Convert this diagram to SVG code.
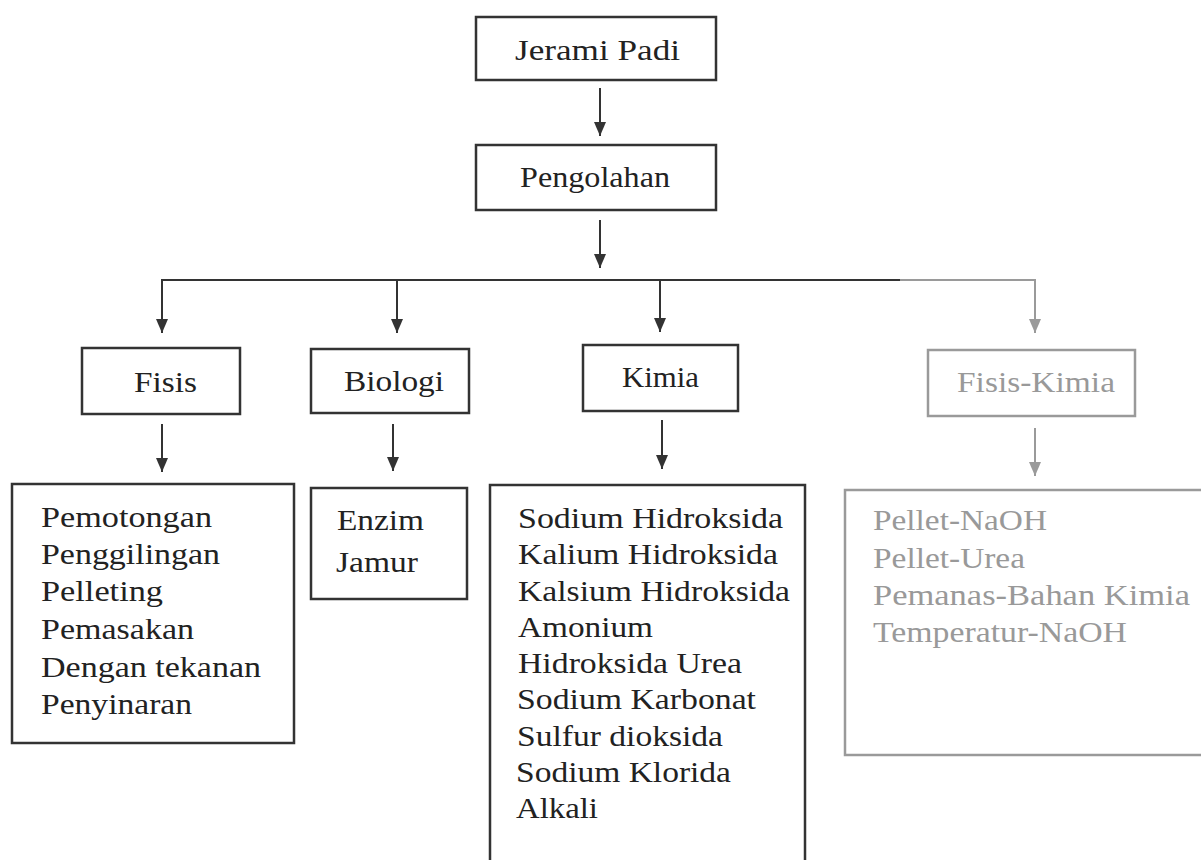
<svg xmlns="http://www.w3.org/2000/svg" width="1201" height="860" viewBox="0 0 1201 860">
<style>
.bx{fill:none;stroke:#333;stroke-width:2.5}
.bxg{fill:none;stroke:#9a9a9a;stroke-width:2.5}
.t{fill:#222}
.tg{fill:#999}
.ln{fill:none;stroke:#333;stroke-width:2}
.lng{fill:none;stroke:#9a9a9a;stroke-width:2}
</style>
<defs>
<marker id="ah" viewBox="0 0 14 12" refX="14" refY="6" markerWidth="14" markerHeight="12" markerUnits="userSpaceOnUse" orient="auto">
<path d="M0,0 L14,6 L0,12 Z" fill="#333"/>
</marker>
<marker id="ahg" viewBox="0 0 14 12" refX="14" refY="6" markerWidth="14" markerHeight="12" markerUnits="userSpaceOnUse" orient="auto">
<path d="M0,0 L14,6 L0,12 Z" fill="#9a9a9a"/>
</marker>
</defs>
<rect width="1201" height="860" fill="#fff"/>
<g id="connectors">
<line class="ln" x1="600" y1="88" x2="600" y2="136" marker-end="url(#ah)"/>
<line class="ln" x1="600" y1="220" x2="600" y2="268" marker-end="url(#ah)"/>
<polyline class="ln" points="162,280 900,280"/>
<line class="lng" x1="900" y1="280" x2="1035" y2="280"/>
<line class="lng" x1="1035" y1="279" x2="1035" y2="333" marker-end="url(#ahg)"/>
<line class="ln" x1="162" y1="279" x2="162" y2="333" marker-end="url(#ah)"/>
<line class="ln" x1="397" y1="280" x2="397" y2="333" marker-end="url(#ah)"/>
<line class="ln" x1="660" y1="280" x2="660" y2="332" marker-end="url(#ah)"/>
<line class="ln" x1="162" y1="424" x2="162" y2="472" marker-end="url(#ah)"/>
<line class="ln" x1="393" y1="424" x2="393" y2="471" marker-end="url(#ah)"/>
<line class="ln" x1="662" y1="420" x2="662" y2="469" marker-end="url(#ah)"/>
<line class="lng" x1="1035" y1="428" x2="1035" y2="476" marker-end="url(#ahg)"/>
</g>
<g font-family="'Liberation Serif', 'Times New Roman', serif" font-size="30">
<g id="jerami">
<rect class="bx" x="476" y="17" width="240" height="63"/>
<text class="t" x="515" y="60" textLength="165" lengthAdjust="spacingAndGlyphs">Jerami  Padi</text>
</g>
<g id="pengolahan">
<rect class="bx" x="476" y="145" width="240" height="65"/>
<text class="t" x="520" y="187" textLength="150" lengthAdjust="spacingAndGlyphs">Pengolahan</text>
</g>
<g id="fisis">
<rect class="bx" x="82" y="348" width="158" height="66"/>
<text class="t" x="134" y="392" textLength="63" lengthAdjust="spacingAndGlyphs">Fisis</text>
</g>
<g id="biologi">
<rect class="bx" x="311" y="349" width="158" height="64"/>
<text class="t" x="344" y="391" textLength="100" lengthAdjust="spacingAndGlyphs">Biologi</text>
</g>
<g id="kimia">
<rect class="bx" x="583" y="345" width="155" height="66"/>
<text class="t" x="622" y="387" textLength="77" lengthAdjust="spacingAndGlyphs">Kimia</text>
</g>
<g id="fisis-kimia">
<rect class="bxg" x="928" y="350" width="207" height="66"/>
<text class="tg" x="957" y="392" textLength="158" lengthAdjust="spacingAndGlyphs">Fisis-Kimia</text>
</g>
<g id="fisis-list">
<rect class="bx" x="12" y="484" width="282" height="259"/>
<text class="t" x="41" y="527" textLength="171" lengthAdjust="spacingAndGlyphs">Pemotongan</text>
<text class="t" x="41" y="564" textLength="179" lengthAdjust="spacingAndGlyphs">Penggilingan</text>
<text class="t" x="41" y="601" textLength="122" lengthAdjust="spacingAndGlyphs">Pelleting</text>
<text class="t" x="41" y="639" textLength="153" lengthAdjust="spacingAndGlyphs">Pemasakan</text>
<text class="t" x="41" y="677" textLength="220" lengthAdjust="spacingAndGlyphs">Dengan tekanan</text>
<text class="t" x="41" y="714" textLength="151" lengthAdjust="spacingAndGlyphs">Penyinaran</text>
</g>
<g id="biologi-list">
<rect class="bx" x="311" y="488" width="156" height="111"/>
<text class="t" x="337" y="530" textLength="87" lengthAdjust="spacingAndGlyphs">Enzim</text>
<text class="t" x="336" y="572" textLength="82" lengthAdjust="spacingAndGlyphs">Jamur</text>
</g>
<g id="kimia-list">
<rect class="bx" x="490" y="485" width="315" height="380"/>
<text class="t" x="518" y="528" textLength="265" lengthAdjust="spacingAndGlyphs">Sodium Hidroksida</text>
<text class="t" x="518" y="564" textLength="260" lengthAdjust="spacingAndGlyphs">Kalium Hidroksida</text>
<text class="t" x="518" y="601" textLength="272" lengthAdjust="spacingAndGlyphs">Kalsium Hidroksida</text>
<text class="t" x="518" y="637" textLength="135" lengthAdjust="spacingAndGlyphs">Amonium</text>
<text class="t" x="518" y="673" textLength="224" lengthAdjust="spacingAndGlyphs">Hidroksida Urea</text>
<text class="t" x="517" y="709" textLength="239" lengthAdjust="spacingAndGlyphs">Sodium Karbonat</text>
<text class="t" x="517" y="746" textLength="206" lengthAdjust="spacingAndGlyphs">Sulfur dioksida</text>
<text class="t" x="516" y="782" textLength="215" lengthAdjust="spacingAndGlyphs">Sodium Klorida</text>
<text class="t" x="516" y="818" textLength="82" lengthAdjust="spacingAndGlyphs">Alkali</text>
</g>
<g id="fisis-kimia-list">
<rect class="bxg" x="845" y="490" width="370" height="265"/>
<text class="tg" x="873" y="530" textLength="174" lengthAdjust="spacingAndGlyphs">Pellet-NaOH</text>
<text class="tg" x="873" y="568" textLength="152" lengthAdjust="spacingAndGlyphs">Pellet-Urea</text>
<text class="tg" x="873" y="605" textLength="317" lengthAdjust="spacingAndGlyphs">Pemanas-Bahan  Kimia</text>
<text class="tg" x="873" y="642" textLength="254" lengthAdjust="spacingAndGlyphs">Temperatur-NaOH</text>
</g>
</g>
</svg>
